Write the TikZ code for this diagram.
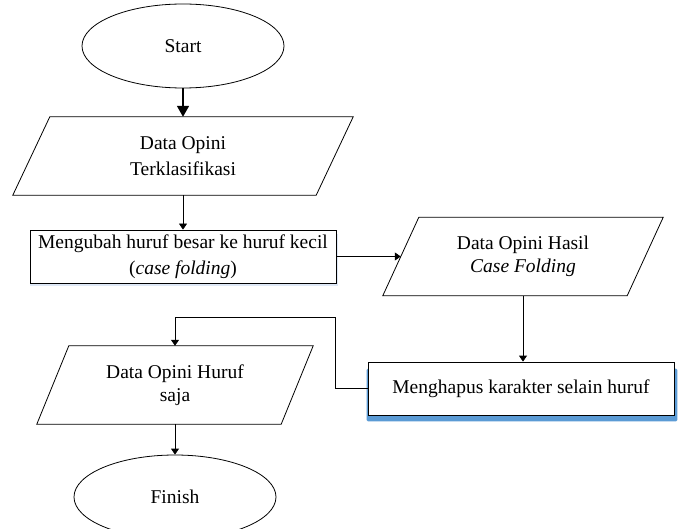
\documentclass[tikz,border=0pt]{standalone}
\usepackage{fontspec}
\setmainfont{Liberation Serif}
\usetikzlibrary{arrows.meta,shapes.geometric,backgrounds}
\definecolor{shadeblue}{RGB}{91,155,213}
\definecolor{paleblue}{RGB}{222,232,246}
% slanted input/output frame drawn around an invisible rectangular node
\newcommand\slantframe[2]{%
  \draw[line width=0.8pt] ([xshift=-#2]#1.south west) -- ([xshift=#2]#1.north west)
    -- ([xshift=#2]#1.north east) -- ([xshift=-#2]#1.south east) -- cycle;}
\begin{document}
\begin{tikzpicture}[x=1pt,y=-1pt,
  font=\fontsize{19.5}{26}\selectfont,
  every node/.style={inner sep=0pt, align=center},
  terminal/.style={ellipse, draw, line width=0.8pt, minimum width=202pt, minimum height=84pt},
  procbox/.style={rectangle, draw, fill=white, line width=0.8pt, minimum width=306pt, minimum height=53pt},
  iobox/.style={rectangle, minimum height=78pt},
  tight/.style={font=\fontsize{19.5}{23.5}\selectfont},
  link/.style={line width=0.8pt, -{Triangle[length=6pt,width=8pt]}},
  mainlink/.style={line width=1.6pt, -{Triangle[length=11pt,width=12pt]}}
  ]
\useasboundingbox (0,0) rectangle (682,529);
\clip (0,0) rectangle (682,529);

% shapes
\node[terminal] (start) at (183,46) {Start};
\node[iobox, minimum width=303pt] (p1) at (183,156) {Data Opini\\Terklasifikasi};
\slantframe{p1}{18.5pt}
\node[procbox] (r1) at (183,256.5) {Mengubah huruf besar ke huruf kecil\\(\textit{case folding})};
\node[iobox, tight, minimum width=244pt] (p2) at (523,256.5) {Data Opini Hasil\\\textit{Case Folding}};
\slantframe{p2}{18pt}
\node[procbox] (r2) at (521,388.5) {Menghapus karakter selain huruf};
\node[iobox, tight, minimum width=244pt] (p3) at (175,385) {Data Opini Huruf\\saja};
\slantframe{p3}{16pt}
\node[terminal] (finish) at (175,497) {Finish};

% shadows behind the process boxes
\begin{scope}[on background layer]
  \fill[white] (0,0) rectangle (682,529);
  \fill[paleblue] ([xshift=0pt,yshift=-3pt]r1.south west) rectangle ([xshift=2pt,yshift=-4pt]r1.north east);
  \fill[shadeblue, rounded corners=1.5pt] ([xshift=-1pt,yshift=-6pt]r2.south west) rectangle ([xshift=3pt,yshift=-7pt]r2.north east);
\end{scope}

% connectors
\coordinate (bend) at (335,317);
\draw[mainlink] (start.south) -- (p1.north);
\draw[link] (p1.south) -- (r1.north);
\draw[link] (r1.east) -- (p2.west);
\draw[link] (p2.south) -- (p2.south |- r2.north);
\draw[link] (r2.west) -| (bend) -| (p3.north);
\draw[link] (p3.south) -- (finish.north);
\end{tikzpicture}
\end{document}
